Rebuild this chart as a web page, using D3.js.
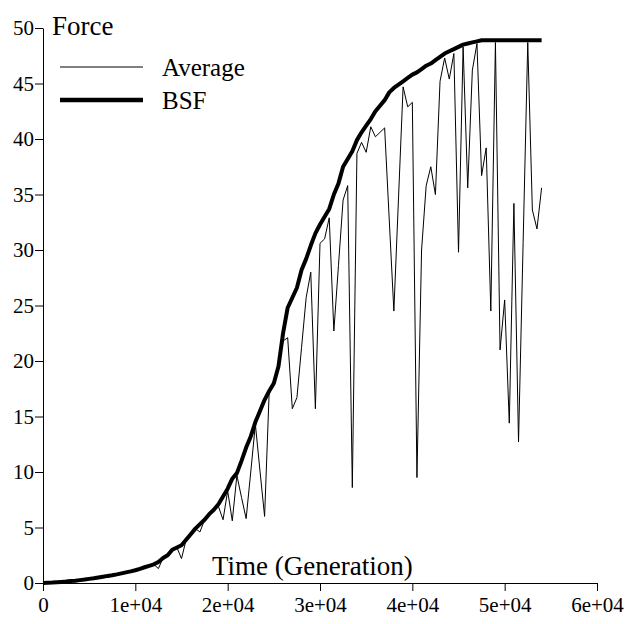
<!DOCTYPE html>
<html>
<head>
<meta charset="utf-8">
<script src="https://cdn.jsdelivr.net/npm/d3@7"></script>
<style>
  body { margin: 0; background: white; }
</style>
</head>
<body>
<div class="container"></div>
<script>
// generations sampled (every 500)
const generations = [
  0, 500, 1000, 1500, 2000, 2500, 3000, 3500, 4000, 4500,
  5000, 5500, 6000, 6500, 7000, 7500, 8000, 8500, 9000, 9500,
  10000, 10500, 11000, 11500, 12000, 12500, 13000, 13500, 14000, 14500,
  15000, 15500, 16000, 16500, 17000, 17500, 18000, 18500, 19000, 19500,
  20000, 20500, 21000, 21500, 22000, 22500, 23000, 23500, 24000, 24500,
  25000, 25500, 26000, 26500, 27000, 27500, 28000, 28500, 29000, 29500,
  30000, 30500, 31000, 31500, 32000, 32500, 33000, 33500, 34000, 34500,
  35000, 35500, 36000, 36500, 37000, 37500, 38000, 38500, 39000, 39500,
  40000, 40500, 41000, 41500, 42000, 42500, 43000, 43500, 44000, 44500,
  45000, 45500, 46000, 46500, 47000, 47500, 48000, 48500, 49000, 49500,
  50000, 50500, 51000, 51500, 52000, 52500, 53000, 53500, 54000
];

// best so far force
const bsf = [
  0, 0.02, 0.04, 0.07, 0.1, 0.13, 0.17, 0.21, 0.26, 0.31,
  0.37, 0.43, 0.5, 0.57, 0.64, 0.7, 0.78, 0.87, 0.96, 1.05,
  1.15, 1.28, 1.42, 1.55, 1.68, 1.9, 2.25, 2.5, 3.0, 3.2,
  3.4, 3.9, 4.4, 4.9, 5.3, 5.7, 6.2, 6.6, 7.1, 7.8,
  8.5, 9.4, 9.9, 11.0, 12.2, 13.2, 14.5, 15.5, 16.5, 17.3,
  18.0, 19.5, 22.5, 24.8, 25.7, 26.6, 28.2, 29.2, 30.4, 31.5,
  32.3, 33.0, 33.7, 35.0, 36.0, 37.5, 38.2, 38.9, 39.9, 40.6,
  41.2, 41.8, 42.5, 43.0, 43.5, 44.2, 44.6, 44.9, 45.2, 45.5,
  45.8, 46.0, 46.3, 46.6, 46.8, 47.1, 47.4, 47.7, 47.9, 48.1,
  48.3, 48.5, 48.6, 48.7, 48.8, 48.9, 48.9, 48.9, 48.9, 48.9,
  48.9, 48.9, 48.9, 48.9, 48.9, 48.9, 48.9, 48.9, 48.9
];

// average force of the population
const average = [
  0, 0.02, 0.04, 0.07, 0.1, 0.13, 0.17, 0.21, 0.26, 0.31,
  0.37, 0.43, 0.5, 0.57, 0.64, 0.7, 0.78, 0.87, 0.96, 1.05,
  1.15, 1.28, 1.42, 1.55, 1.68, 1.3, 2.25, 2.5, 3.0, 3.2,
  2.2, 3.9, 4.4, 4.9, 4.6, 5.7, 6.2, 6.6, 6.9, 5.7,
  8.3, 5.6, 9.7, 7.7, 5.8, 10.0, 14.3, 10.1, 6.0, 17.3,
  18.0, 19.5, 21.8, 22.1, 15.7, 16.7, 21.2, 25.7, 28.0, 15.7,
  30.6, 31.0, 32.9, 22.7, 28.6, 34.5, 35.8, 8.6, 38.7, 39.7,
  38.8, 41.1, 40.2, 40.6, 41.0, 32.7, 24.5, 34.6, 44.7, 42.9,
  43.3, 9.5, 30.0, 35.8, 37.5, 35.0, 45.2, 47.3, 45.4, 47.7,
  29.8, 48.3, 35.6, 46.2, 48.6, 36.7, 39.2, 24.5, 48.7, 21.0,
  25.5, 14.4, 34.2, 12.7, 30.7, 48.7, 33.6, 31.9, 35.6
];

const xTicks = [0, 10000, 20000, 30000, 40000, 50000, 60000];
const xTickLabels = ["0", "1e+04", "2e+04", "3e+04", "4e+04", "5e+04", "6e+04"];
const yTicks = [0, 5, 10, 15, 20, 25, 30, 35, 40, 45, 50];
const legendNames = ["Average", "BSF"];

const width = 632, height = 624;
const serif = "'Liberation Serif', 'Times New Roman', Times, serif";

const svg = d3
.select(".container")
.append("svg")
.attr("width", width)
.attr("height", height)
.attr("font-family", serif);

const x_scale = d3.scaleLinear()
    .domain([0, 60000])
    .range([43, 597]);

const y_scale = d3.scaleLinear()
    .domain([0, 50])
    .range([583, 28]);

const rows = generations.map((g, i) => ({gen: g, avg: average[i], bsf: bsf[i]}));

// axes
const x_axis = d3.axisBottom(x_scale)
    .tickValues(xTicks)
    .tickFormat((d, i) => xTickLabels[i])
    .tickSizeInner(8)
    .tickSizeOuter(0)
    .tickPadding(6);

svg.append("g")
    .attr("transform", `translate(0, ${y_scale(0)})`)
    .call(x_axis)
    .attr("font-family", serif)
    .attr("font-size", 21)
    .call(g => g.selectAll("text").attr("fill", "black"))
    .call(g => g.selectAll("line, path").attr("stroke", "black"));

const y_axis = d3.axisLeft(y_scale)
    .tickValues(yTicks)
    .tickFormat(d3.format("d"))
    .tickSizeInner(8)
    .tickSizeOuter(0)
    .tickPadding(1);

svg.append("g")
    .attr("transform", `translate(${x_scale(0)}, 0)`)
    .call(y_axis)
    .attr("font-family", serif)
    .attr("font-size", 21)
    .call(g => g.selectAll("text").attr("fill", "black"))
    .call(g => g.selectAll("line, path").attr("stroke", "black"));

// lines
const avgLine = d3.line()
    .x(d => x_scale(d.gen))
    .y(d => y_scale(d.avg));

const bsfLine = d3.line()
    .x(d => x_scale(d.gen))
    .y(d => y_scale(d.bsf));

svg.append("path")
    .datum(rows)
    .attr("fill", "none")
    .attr("stroke", "black")
    .attr("stroke-width", 1)
    .attr("d", avgLine);

svg.append("path")
    .datum(rows)
    .attr("fill", "none")
    .attr("stroke", "black")
    .attr("stroke-width", 4)
    .attr("stroke-linejoin", "round")
    .attr("d", bsfLine);

// titles
svg.append("text")
    .attr("x", 52)
    .attr("y", 35)
    .attr("font-size", 27)
    .text("Force");

svg.append("text")
    .attr("x", 212)
    .attr("y", 575)
    .attr("font-size", 27)
    .text("Time (Generation)");

// legend
const legend = svg.append("g")
    .selectAll("g")
    .data(legendNames)
    .join("g")
    .attr("transform", (d, i) => `translate(60, ${67 + i * 33})`);

legend.append("line")
    .attr("x1", 0)
    .attr("x2", 83)
    .attr("stroke", "black")
    .attr("stroke-width", (d, i) => i === 0 ? 1 : 4.5);

legend.append("text")
    .attr("x", 102)
    .attr("y", 9)
    .attr("font-size", 25)
    .text(d => d);
</script>
</body>
</html>
